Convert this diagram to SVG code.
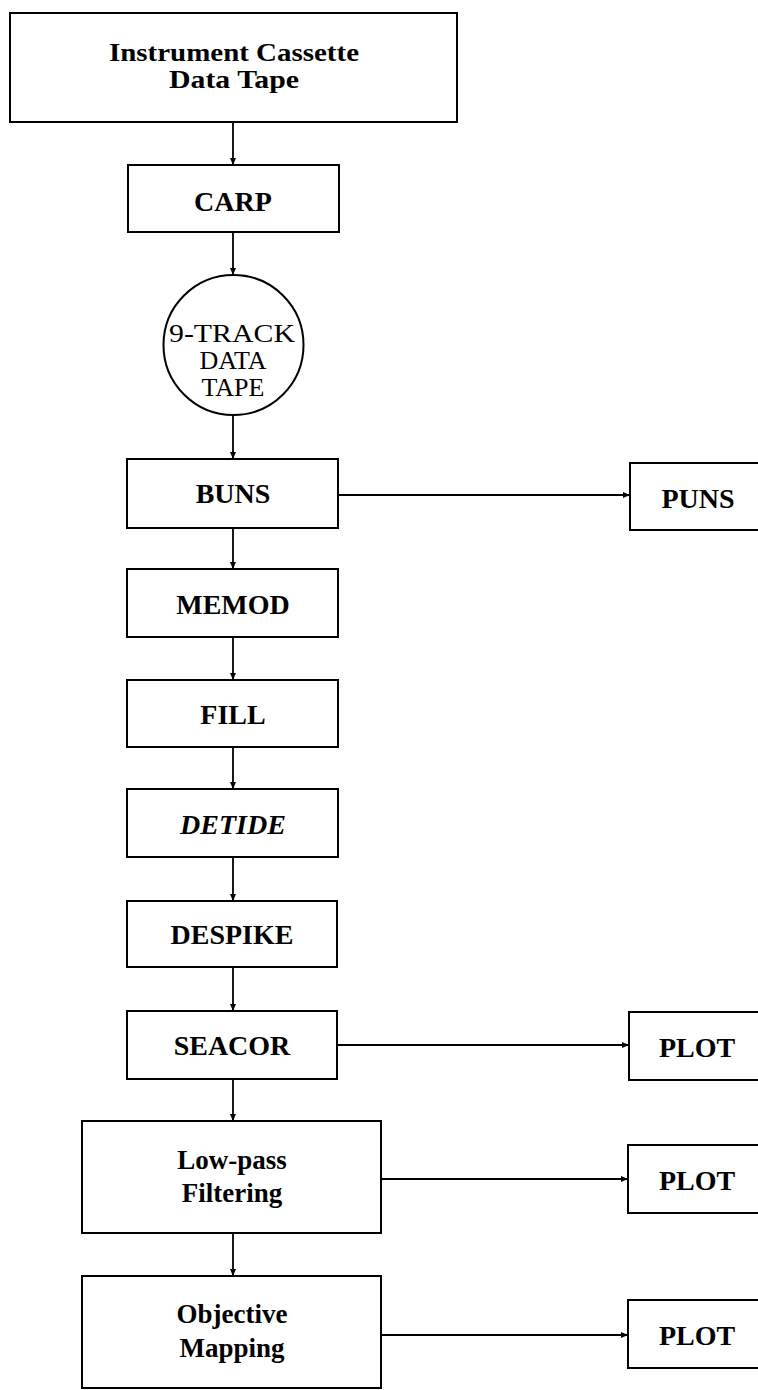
<svg xmlns="http://www.w3.org/2000/svg" width="758" height="1390" viewBox="0 0 758 1390">
<style>
.box{fill:#fff;stroke:#000;stroke-width:2}
.t{font-family:"Liberation Serif","DejaVu Serif",serif;font-size:28px;font-weight:bold;text-anchor:middle;fill:#000}
.r{font-weight:normal;font-size:26px}
.m{font-size:26px}
.i{font-style:italic}
.s{font-size:27px}
.c{stroke:#000;stroke-width:1.8;fill:none;marker-end:url(#ah)}
</style>
<defs>
<marker id="ah" markerUnits="userSpaceOnUse" markerWidth="8" markerHeight="8" refX="7" refY="4" orient="auto">
<path d="M0,1 L7,4 L0,7 z" fill="#000"/>
</marker>
</defs>
<rect width="758" height="1390" fill="#fff"/>
<g id="connectors">
<line class="c" x1="233" y1="122" x2="233" y2="165"/>
<line class="c" x1="233" y1="232" x2="233" y2="275"/>
<line class="c" x1="233" y1="415" x2="233" y2="459"/>
<line class="c" x1="338" y1="495" x2="630" y2="495"/>
<line class="c" x1="233" y1="528" x2="233" y2="569"/>
<line class="c" x1="233" y1="637" x2="233" y2="680"/>
<line class="c" x1="233" y1="747" x2="233" y2="789"/>
<line class="c" x1="233" y1="857" x2="233" y2="901"/>
<line class="c" x1="233" y1="967" x2="233" y2="1011"/>
<line class="c" x1="337" y1="1045" x2="629" y2="1045"/>
<line class="c" x1="233" y1="1079" x2="233" y2="1121"/>
<line class="c" x1="381" y1="1179" x2="628" y2="1179"/>
<line class="c" x1="233" y1="1233" x2="233" y2="1276"/>
<line class="c" x1="381" y1="1335" x2="628" y2="1335"/>
</g>
<g id="cassette">
<rect class="box" x="10" y="13" width="447" height="109"/>
<text class="t m" x="234" y="61" textLength="250" lengthAdjust="spacingAndGlyphs">Instrument Cassette</text>
<text class="t m" x="234" y="88" textLength="130" lengthAdjust="spacingAndGlyphs">Data Tape</text>
</g>
<g id="carp">
<rect class="box" x="128" y="165" width="211" height="67"/>
<text class="t" x="233" y="211">CARP</text>
</g>
<g id="tape">
<circle class="box" cx="233.5" cy="345" r="70"/>
<text class="t r" x="232" y="342" textLength="126" lengthAdjust="spacingAndGlyphs">9-TRACK</text>
<text class="t r" x="233" y="369">DATA</text>
<text class="t r" x="233" y="396">TAPE</text>
</g>
<g id="buns">
<rect class="box" x="127" y="459" width="211" height="69"/>
<text class="t" x="233" y="503">BUNS</text>
</g>
<g id="puns">
<rect class="box" x="630" y="463" width="140" height="67"/>
<text class="t" x="698" y="508">PUNS</text>
</g>
<g id="memod">
<rect class="box" x="127" y="569" width="211" height="68"/>
<text class="t" x="233" y="614">MEMOD</text>
</g>
<g id="fill">
<rect class="box" x="127" y="680" width="211" height="67"/>
<text class="t" x="233" y="724">FILL</text>
</g>
<g id="detide">
<rect class="box" x="127" y="789" width="211" height="68"/>
<text class="t i" x="233" y="834">DETIDE</text>
</g>
<g id="despike">
<rect class="box" x="127" y="901" width="210" height="66"/>
<text class="t" x="232" y="944">DESPIKE</text>
</g>
<g id="seacor">
<rect class="box" x="127" y="1011" width="210" height="68"/>
<text class="t" x="232" y="1055">SEACOR</text>
</g>
<g id="plot1">
<rect class="box" x="629" y="1012" width="140" height="68"/>
<text class="t" x="697" y="1057">PLOT</text>
</g>
<g id="lowpass">
<rect class="box" x="82" y="1121" width="299" height="112"/>
<text class="t s" x="232" y="1169">Low-pass</text>
<text class="t s" x="232" y="1202">Filtering</text>
</g>
<g id="plot2">
<rect class="box" x="628" y="1145" width="140" height="68"/>
<text class="t" x="697" y="1190">PLOT</text>
</g>
<g id="objective">
<rect class="box" x="82" y="1276" width="299" height="112"/>
<text class="t s" x="232" y="1323">Objective</text>
<text class="t s" x="232" y="1357">Mapping</text>
</g>
<g id="plot3">
<rect class="box" x="628" y="1300" width="140" height="68"/>
<text class="t" x="697" y="1345">PLOT</text>
</g>
</svg>
